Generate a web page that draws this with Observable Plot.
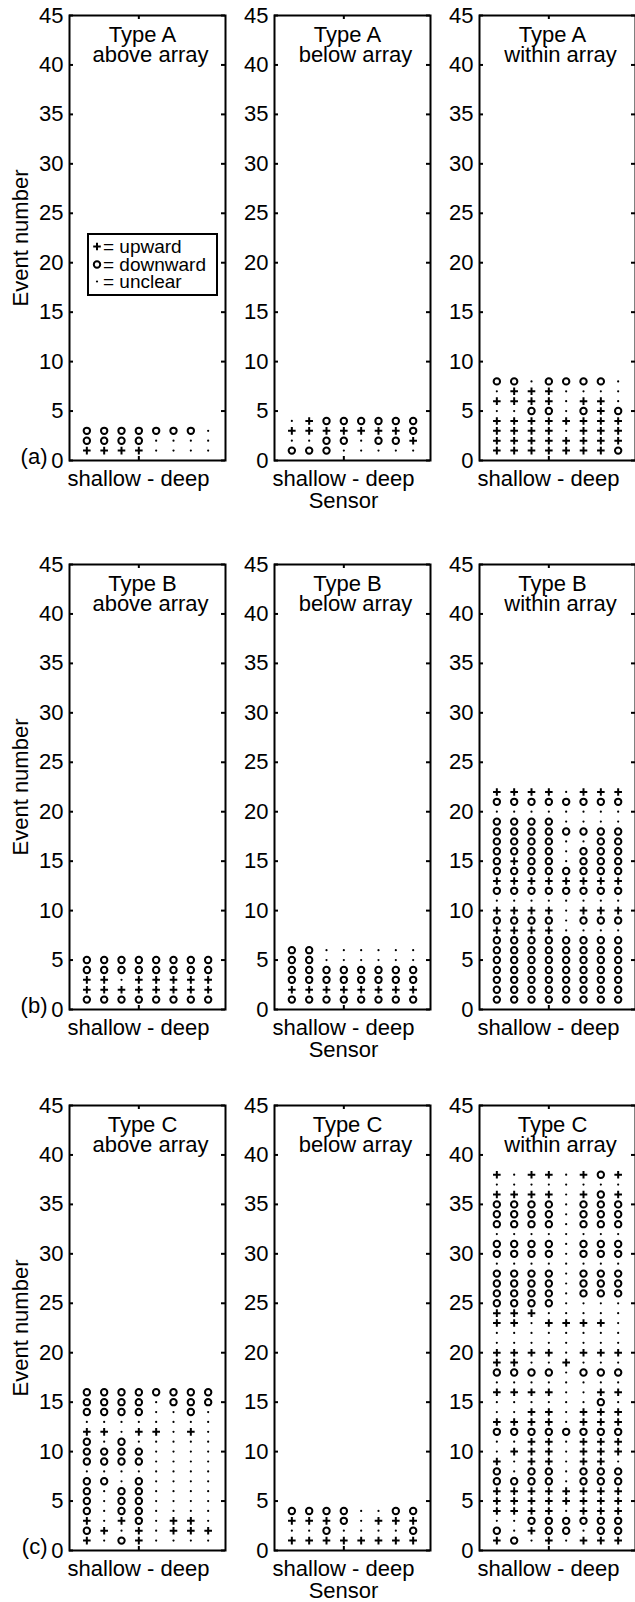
<!DOCTYPE html>
<html><head><meta charset="utf-8">
<script src="https://cdn.jsdelivr.net/npm/d3@7"></script>
<script src="https://cdn.jsdelivr.net/npm/@observablehq/plot@0.6"></script>
<style>
html,body{margin:0;padding:0;background:#fff;}
body{width:635px;height:1602px;overflow:hidden;position:relative;font-family:"Liberation Sans",Arial,Helvetica,sans-serif;}
#chart{position:absolute;left:0;top:0;width:635px;height:1602px;overflow:hidden;}
.panel{position:absolute;}
.legend{position:absolute;box-sizing:border-box;border:2px solid #000;background:#fff;font-size:19px;color:#000;}
.legend .row{position:absolute;left:0;height:17px;line-height:17px;white-space:nowrap;}
.legend svg{position:absolute;left:2px;top:0;}
.legend span{position:absolute;left:14px;top:0;}
</style></head><body><div id="chart"></div>
<script>
// ---- data: one string per event (event 1 first), one character per sensor (shallow -> deep)
// '+' = upward, 'o' = downward, '.' = unclear
const sensors = [1, 2, 3, 4, 5, 6, 7, 8];
const yTicks = [0, 5, 10, 15, 20, 25, 30, 35, 40, 45];
const xTicks = [4];
const typeNames = ["Type A", "Type B", "Type C"];
const placeNames = ["above array", "below array", "within array"];
const rowLabels = ["(a)", "(b)", "(c)"];
const xLabel = "shallow - deep";
const sensorLabel = "Sensor";
const yLabel = "Event number";
const legendItems = [
  {sym: "+", text: "= upward"},
  {sym: "o", text: "= downward"},
  {sym: ".", text: "= unclear"}
];

const typeAAbove = ["++++....", "oooo....", "ooooooo."];
const typeABelow = ["ooo.....", "..oo.oo+", "+++++++o", ".+oooooo"];
const typeAWithin = [
  "+++++++o", "++++++++", "++++.+++", "++++++++",
  "..oo.o+o", "++++.++.", ".+++....", "oo.oooo."
];
const typeBAbove = ["oooooooo", "++++++++", "++.+++++", "oooooooo", "oooooooo"];
const typeBBelow = ["oooooooo", "++++++++", "oooooooo", "oooooooo", "oo......", "oo......"];
const typeBWithin = [
  "oooooooo", "oooooooo", "oooooooo", "oooooooo", "oooooooo", "oooooooo", "oooooooo",
  "++++....", "oooo.ooo", "++++.+++", "........", "oooooooo", "++++++++", "oooooooo",
  "o+oo.ooo", "oooo.ooo", "oooo..oo", "oooooooo", "oooo....", "........", "oooooooo",
  "++++.+++"
];
const typeCAbove = [
  "+.o+....", "o+.+.+++", "+.+o.++.", "o.oo....", "o.oo....", "o.oo....", "oo.o....",
  "........", "oooo....", "oooo....", "o.o.....", "++.++.+.", "........", "oooo..o.",
  "oooo.ooo", "oooooooo"
];
const typeCBelow = ["++++++++", "..o....o", "+++o.+++", "oooo..oo"];
const typeCWithin = [
  "+o.+.+++", "o.+oo.oo", "..oooooo", "++++.+++", "++++++++", "++++++++", "oooo.ooo",
  "o.oo.ooo", "+.++.++.", ".+++.+++", "..++.+++", "oooooooo", "++++.+++", "..++.+++",
  "......o.", "++++..++", "........", "oooo.ooo", "++..+...", "++++.+++", "........",
  "........", "++.++++.", "+++.....", "oooo....", "oooo.ooo", "oooo.ooo", "oooo.ooo",
  "........", "oooo.ooo", "oooo.ooo", "........", "oooo.ooo", "oooo.ooo", "oooo.ooo",
  "++++.+o+", "........", "+.++.+o+"
];

const grid = [
  [typeAAbove, typeABelow, typeAWithin],
  [typeBAbove, typeBBelow, typeBWithin],
  [typeCAbove, typeCBelow, typeCWithin]
];

// ---- layout
const COL_L = [69, 274, 479];
const ROW_T = [15, 564, 1105];
const PW = 156, PH = 445;
const FONT = "'Liberation Sans', Arial, Helvetica, sans-serif";

// stroked plus marker whose half-arm equals the dot radius r
const plusSymbol = {
  draw(ctx, size) {
    const a = Math.sqrt(size / Math.PI);
    ctx.moveTo(-a, 0); ctx.lineTo(a, 0);
    ctx.moveTo(0, -a); ctx.lineTo(0, a);
  }
};

function toRecords(rows) {
  const out = [];
  rows.forEach((s, i) => [...s].forEach((c, j) => out.push({sensor: sensors[j], event: i + 1, dir: c})));
  return out;
}

const chart = document.getElementById("chart");
for (let r = 0; r < 3; r++) {
  for (let c = 0; c < 3; c++) {
    const ML = c === 0 ? COL_L[0] : 45, MR = 8, MT = 6, MB = 50;
    const data = toRecords(grid[r][c]);
    const marks = [
      Plot.frame({stroke: "black", strokeWidth: 2}),
      Plot.tickY(yTicks, {y: d => d, insetRight: PW - 4, stroke: "black", strokeWidth: 2}),
      Plot.tickY(yTicks, {y: d => d, insetLeft: PW - 4, stroke: "black", strokeWidth: 2}),
      Plot.tickX(xTicks, {x: d => d, insetBottom: PH - 4, stroke: "black", strokeWidth: 2}),
      Plot.tickX(xTicks, {x: d => d, insetTop: PH - 4, stroke: "black", strokeWidth: 2}),
      Plot.axisY(yTicks, {tickSize: 0, tickPadding: 6, label: null}),
      Plot.dot(data, {filter: d => d.dir === "o", x: "sensor", y: "event", r: 3.2, stroke: "black", strokeWidth: 2, fill: "none"}),
      Plot.dot(data, {filter: d => d.dir === "+", x: "sensor", y: "event", symbol: plusSymbol, r: 3.8, stroke: "black", strokeWidth: 2, fill: "none"}),
      Plot.dot(data, {filter: d => d.dir === ".", x: "sensor", y: "event", r: 1.1, fill: "black", stroke: "none"}),
      Plot.text([typeNames[r]], {frameAnchor: "top", lineAnchor: "middle", dy: 19, dx: -5}),
      Plot.text([placeNames[c]], {frameAnchor: "top", lineAnchor: "middle", dy: 39, dx: 3}),
      Plot.text([xLabel], {frameAnchor: "bottom", lineAnchor: "middle", dy: 18, dx: -9})
    ];
    if (c === 1) marks.push(Plot.text([sensorLabel], {frameAnchor: "bottom", lineAnchor: "middle", dy: 40, dx: -9}));
    if (c === 0) {
      marks.push(Plot.text([yLabel], {frameAnchor: "left", textAnchor: "middle", lineAnchor: "middle", dx: 20 - COL_L[0], rotate: -90}));
      marks.push(Plot.text([rowLabels[r]], {frameAnchor: "bottom-left", lineAnchor: "middle", dx: -22, dy: -4, textAnchor: "end"}));
    }
    const svg = Plot.plot({
      width: ML + PW + MR,
      height: MT + PH + MB,
      marginLeft: ML, marginRight: MR, marginTop: MT, marginBottom: MB,
      x: {domain: [0, 9], axis: null},
      y: {domain: [0, 45], axis: null},
      style: `background:none;overflow:visible;max-width:none;font-family:${FONT};font-size:22px;color:#000;`,
      marks
    });
    const div = document.createElement("div");
    div.className = "panel";
    div.style.left = (COL_L[c] - ML) + "px";
    div.style.top = (ROW_T[r] - MT) + "px";
    div.appendChild(svg);
    chart.appendChild(div);
  }
}

// ---- legend (inside Type A / above array panel)
const legend = document.createElement("div");
legend.className = "legend";
Object.assign(legend.style, {left: "87px", top: "233px", width: "131px", height: "63px"});
const rowTops = [3, 20.5, 38];
const ns = "http://www.w3.org/2000/svg";
legendItems.forEach((it, i) => {
  const row = document.createElement("div");
  row.className = "row";
  row.style.top = rowTops[i] + "px";
  row.style.width = "125px";
  const s = document.createElementNS(ns, "svg");
  s.setAttribute("width", 12); s.setAttribute("height", 17);
  let el;
  if (it.sym === "+") {
    el = document.createElementNS(ns, "path");
    el.setAttribute("d", "M2.2,8.5H9.8M6,4.7V12.3");
    el.setAttribute("stroke", "black"); el.setAttribute("stroke-width", 2); el.setAttribute("fill", "none");
  } else if (it.sym === "o") {
    el = document.createElementNS(ns, "circle");
    el.setAttribute("cx", 6); el.setAttribute("cy", 8.5); el.setAttribute("r", 3.2);
    el.setAttribute("stroke", "black"); el.setAttribute("stroke-width", 2); el.setAttribute("fill", "none");
  } else {
    el = document.createElementNS(ns, "circle");
    el.setAttribute("cx", 6); el.setAttribute("cy", 8.5); el.setAttribute("r", 1.1);
    el.setAttribute("fill", "black");
  }
  s.appendChild(el);
  row.appendChild(s);
  const t = document.createElement("span");
  t.textContent = it.text;
  row.appendChild(t);
  legend.appendChild(row);
});
chart.appendChild(legend);
</script></body></html>
